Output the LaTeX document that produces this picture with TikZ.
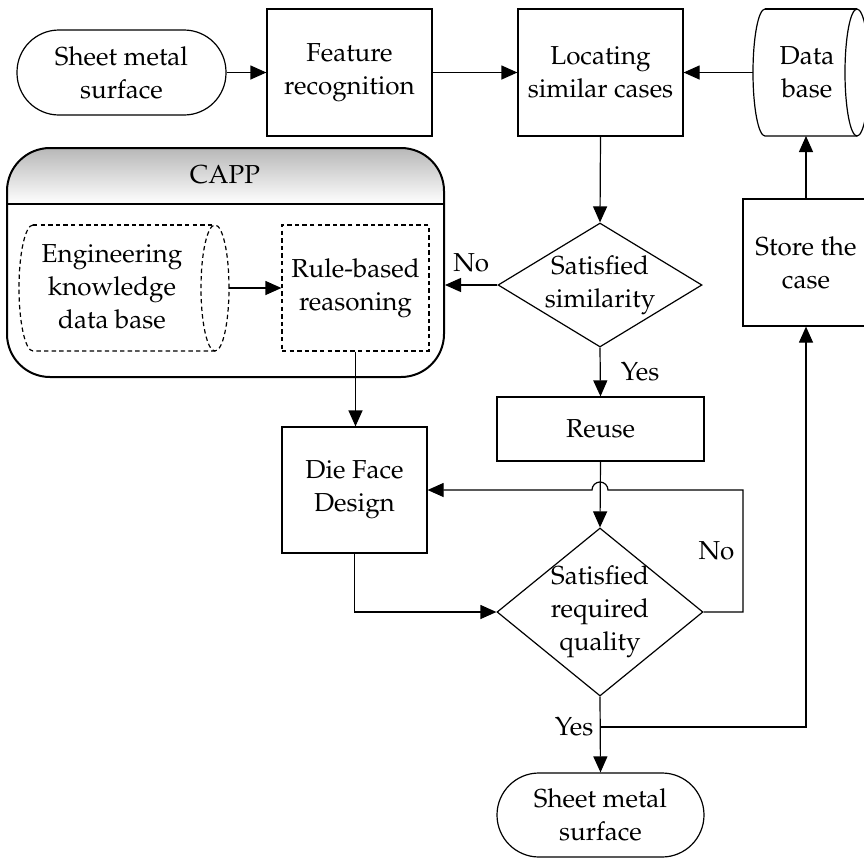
\documentclass[tikz,border=0pt]{standalone}
\usepackage[T1]{fontenc}
\usepackage{mathpazo}
\usetikzlibrary{arrows.meta,shapes.geometric}

\begin{document}
\begin{tikzpicture}[x=0.5pt, y=-0.5pt,
  every node/.style={font=\fontsize{13}{16.5}\selectfont, align=center, inner sep=0pt},
  every path/.style={line width=0.6pt},
  box/.style={draw, rectangle},
  term/.style={draw, rectangle, rounded corners=21pt},
  decision/.style={draw, diamond},
  thindash/.style={dash pattern=on 2.2pt off 1.6pt},
  flow/.style={-{Triangle[length=8pt,width=7pt]}}]
\useasboundingbox (0,0) rectangle (864,858);

\coordinate (dbin) at (753,72.5);
\coordinate (dbbot) at (806,136);
\coordinate (kbout) at (229,288);
\coordinate (loop) at (743,490);
\coordinate (fork) at (600,727);

% CAPP frame
\fill[top color=black!28, bottom color=white] (7,204) -- (7,191) arc[start angle=180, end angle=90, radius=21.5pt]
  -- (401,148) arc[start angle=90, end angle=0, radius=21.5pt] -- (444,204) -- cycle;
\node[draw, rounded corners=21.5pt, line width=1pt, minimum width=218.5pt, minimum height=114.5pt] (capp) at (225.5,262.5) {};
\draw[line width=1pt] (7,204) -- (444,204);
\node (capptitle) at (225,175) {CAPP};

% top row
\node[term, minimum width=104.5pt, minimum height=42.5pt] (start) at (121.5,72.5) {Sheet metal\\surface};
\node[box, minimum width=82.5pt, minimum height=63.5pt] (feat) at (349.5,72.5) {Feature\\recognition};
\node[box, minimum width=82.5pt, minimum height=63.5pt] (locate) at (600.5,72.5) {Locating\\similar cases};
\node (db) at (807,72.5) {Data\\base};
\draw (765,9) arc[start angle=90, end angle=270, x radius=6pt, y radius=31.75pt] -- (857,136);
\draw (765,9) -- (857,9);
\draw (857,72.5) ellipse[x radius=6pt, y radius=31.75pt];

% inside CAPP
\node (kb) at (112,287) {Engineering\\knowledge\\data base};
\draw[thindash] (33,225) arc[start angle=90, end angle=270, x radius=7pt, y radius=31.5pt] -- (215,351);
\draw[thindash] (33,225) -- (215,225);
\draw[thindash] (215,288) ellipse[x radius=7pt, y radius=31.5pt];
\node[box, thindash, minimum width=73.5pt, minimum height=63pt] (rule) at (355.5,288) {Rule-based\\reasoning};

% middle
\node[decision, minimum width=102pt, minimum height=62pt] (sim) at (600,285) {};
\node at (sim) {Satisfied\\similarity};
\node[box, minimum width=103.5pt, minimum height=32pt] (reuse) at (600.5,429) {Reuse};
\node[box, minimum width=72.5pt, minimum height=63pt] (die) at (354.5,490) {Die Face\\Design};
\node[decision, minimum width=103pt, minimum height=84pt] (qual) at (600,612) {};
\node at (qual) {Satisfied\\required\\quality};
\node[box, minimum width=63pt, minimum height=63.5pt] (store) at (806,262.5) {Store the\\case};
\node[term, minimum width=103.5pt, minimum height=42pt] (stop) at (600.5,815) {Sheet metal\\surface};

% connectors
\draw[flow] (start) -- (feat);
\draw[flow] (feat) -- (locate);
\draw[flow] (dbin) -- (locate);
\draw[flow] (locate.south) -- (sim.north);
\draw[flow] (sim.west) -- (sim.west -| capp.east) node[midway, above=6pt] {No};
\draw[flow] (kbout) -- (rule.west);
\draw[flow] (rule.south) -- (rule.south |- die.north);
\draw[flow] (sim.south) -- (reuse.north) node[midway, right=10pt] {Yes};
\draw[flow] (reuse.south) -- (qual.north);
\draw[flow] (qual.east) -| node[pos=0.75, left=4pt] {No} (loop) -- (608,490)
  arc[start angle=0, end angle=180, radius=4pt] -- (die.east);
\draw[flow] (die.south) |- (qual.west);
\draw[flow] (qual.south) -- (stop.north);
\node[left=3pt] at (fork) {Yes};
\draw[flow] (fork) -| (store.south);
\draw[flow] (store.north) -- (dbbot);
\end{tikzpicture}
\end{document}
